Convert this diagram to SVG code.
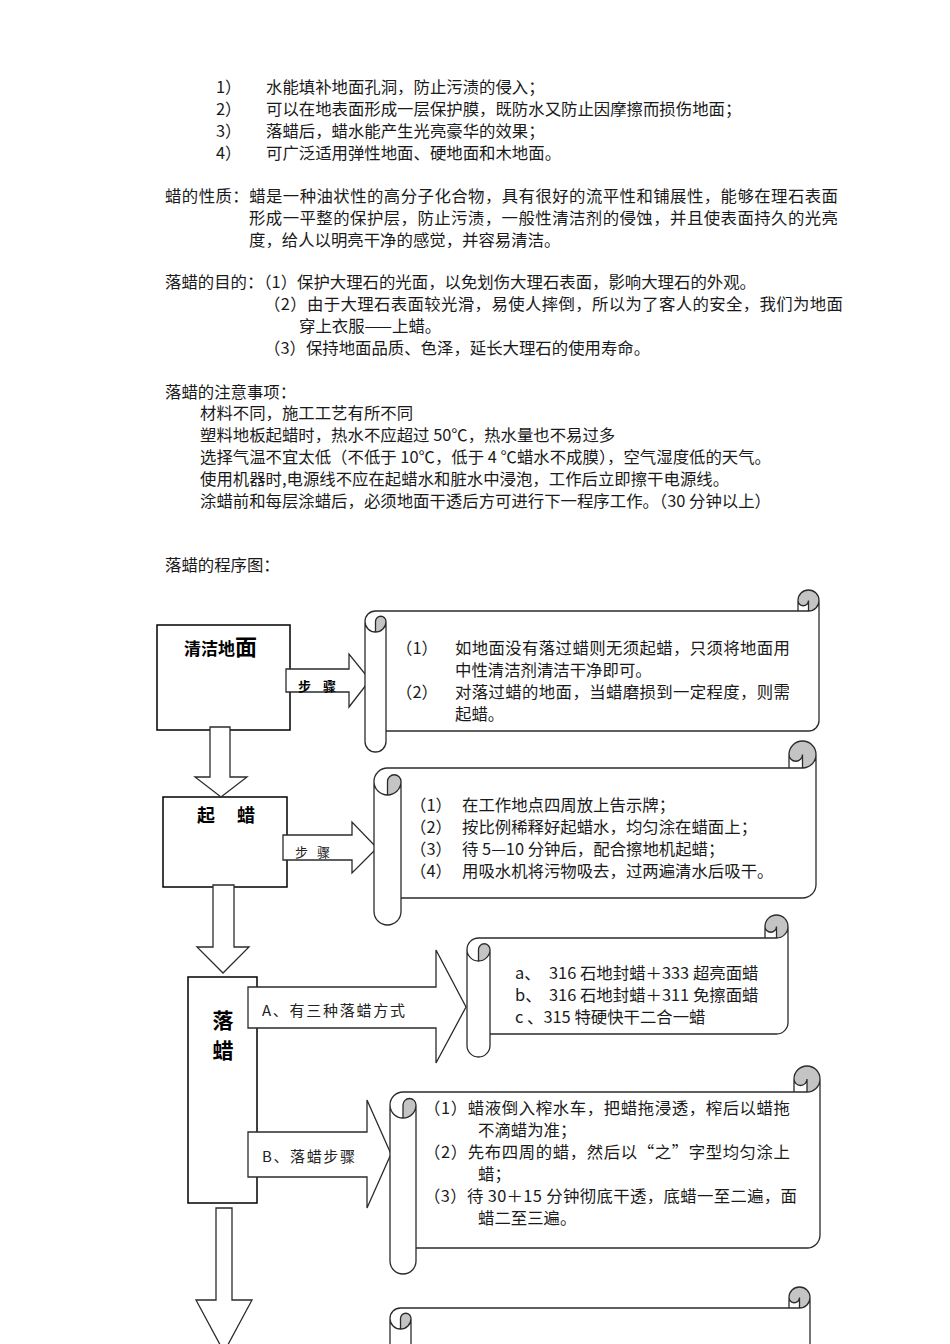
<svg xmlns="http://www.w3.org/2000/svg" width="950" height="1344" viewBox="0 0 950 1344">
<style>
.t{font-family:"Noto Sans CJK SC","Noto Sans",sans-serif;font-size:16.4px;fill:#1a1a1a}
.hb{font-family:"Noto Sans CJK SC","Noto Sans",sans-serif;font-weight:bold;fill:#000}
.lb{font-family:"Noto Sans CJK SC","Noto Sans",sans-serif;fill:#222}
.box{fill:#fff;stroke:#000;stroke-width:1.5}
.arr{fill:#fff;stroke:#2b2b2b;stroke-width:1.3;stroke-linejoin:miter}
.sf{fill:#fff;stroke:none}
.sg{fill:#c4c4c4;stroke:none}
.ss{fill:none;stroke:#2b2b2b;stroke-width:1.3}
</style>
<rect x="0" y="0" width="950" height="1344" fill="#fff"/>

<g id="intro-text" class="t">
  <text x="216" y="93">1）<tspan x="266">水能填补地面孔洞，防止污渍的侵入；</tspan></text>
  <text x="216" y="115">2）<tspan x="266">可以在地表面形成一层保护膜，既防水又防止因摩擦而损伤地面；</tspan></text>
  <text x="216" y="137">3）<tspan x="266">落蜡后，蜡水能产生光亮豪华的效果；</tspan></text>
  <text x="216" y="159">4）<tspan x="266">可广泛适用弹性地面、硬地面和木地面。</tspan></text>
  <text x="165" y="202" textLength="673" lengthAdjust="spacing">蜡的性质：蜡是一种油状性的高分子化合物，具有很好的流平性和铺展性，能够在理石表面</text>
  <text x="249" y="224" textLength="589" lengthAdjust="spacing">形成一平整的保护层，防止污渍，一般性清洁剂的侵蚀，并且使表面持久的光亮</text>
  <text x="249" y="246">度，给人以明亮干净的感觉，并容易清洁。</text>
  <text x="165" y="288">落蜡的目的：（1）保护大理石的光面，以免划伤大理石表面，影响大理石的外观。</text>
  <text x="264" y="310" textLength="579" lengthAdjust="spacing">（2）由于大理石表面较光滑，易使人摔倒，所以为了客人的安全，我们为地面</text>
  <text x="299" y="332">穿上衣服——上蜡。</text>
  <text x="264" y="354">（3）保持地面品质、色泽，延长大理石的使用寿命。</text>
  <text x="165" y="398">落蜡的注意事项：</text>
  <text x="200" y="419">材料不同，施工工艺有所不同</text>
  <text x="200" y="441">塑料地板起蜡时，热水不应超过 50℃，热水量也不易过多</text>
  <text x="200" y="463">选择气温不宜太低（不低于 10℃，低于 4 ℃蜡水不成膜），空气湿度低的天气。</text>
  <text x="200" y="485">使用机器时,电源线不应在起蜡水和脏水中浸泡，工作后立即擦干电源线。</text>
  <text x="200" y="507">涂蜡前和每层涂蜡后，必须地面干透后方可进行下一程序工作。（30 分钟以上）</text>
  <text x="165" y="571">落蜡的程序图：</text>
</g>

<g id="node-clean">
  <rect class="box" x="157" y="625" width="133" height="105"/>
  <text class="hb" x="184" y="655" font-size="17">清洁地<tspan font-size="22">面</tspan></text>
</g>
<g id="node-strip">
  <rect class="box" x="163" y="797" width="124" height="90"/>
  <text class="hb" x="197" y="822" font-size="18">起<tspan x="237">蜡</tspan></text>
</g>
<g id="node-wax">
  <rect class="box" x="188" y="977" width="69" height="226"/>
  <text class="hb" x="223" y="1028" font-size="21" text-anchor="middle">落</text>
  <text class="hb" x="223" y="1058" font-size="21" text-anchor="middle">蜡</text>
</g>

<g id="connectors">
  <polygon class="arr" points="286,669 349,669 349,654 370,680 349,707 349,692 286,692"/>
  <text class="hb" x="298" y="691" font-size="13" textLength="38" lengthAdjust="spacing">步 骤</text>
  <polygon class="arr" points="283,835 352,835 352,822 377,848 352,873 352,860 283,860"/>
  <text class="lb" x="295" y="857" font-size="13" fill="#555" textLength="35" lengthAdjust="spacing">步 骤</text>
  <polygon class="arr" points="210,727 230,727 230,777 247,777 221,797 195,777 210,777"/>
  <polygon class="arr" points="213,885 234,885 234,947 249,947 223,973 197,947 213,947"/>
  <polygon class="arr" points="248,987 436,987 436,950 466,1007 436,1063 436,1028 248,1028"/>
  <text class="lb" x="262" y="1016" font-size="15" textLength="143" lengthAdjust="spacing">A、有三种落蜡方式</text>
  <polygon class="arr" points="248,1132 367,1132 367,1100 391,1154 367,1208 367,1177 248,1177"/>
  <text class="lb" x="262" y="1162" font-size="15" textLength="93" lengthAdjust="spacing">B、落蜡步骤</text>
  <polygon class="arr" points="216,1208 232,1208 232,1300 252,1300 224,1352 196,1300 216,1300"/>
</g>

<g id="scroll-clean">
  <path class="sf" d="M365,621.5 A10.5,10.5 0 0 1 375.5,611 L798,611 L798,600.5 A10.5,10.5 0 0 1 819,600.5 L819,720.5 A10.5,10.5 0 0 1 808.5,731 L386,731 L386,741.5 A10.5,10.5 0 0 1 365,741.5 Z"/>
  <path class="sg" d="M375.5,632 A10.5,10.5 0 0 0 386,621.5 A5.25,5.25 0 0 0 375.5,621.5 Z M808.5,611 A10.5,10.5 0 1 0 798,600.5 A5.25,5.25 0 0 0 808.5,600.5 Z"/>
  <path class="ss" d="M365,621.5 A10.5,10.5 0 0 1 375.5,611 L798,611 L798,600.5 A10.5,10.5 0 0 1 819,600.5 L819,720.5 A10.5,10.5 0 0 1 808.5,731 L386,731 L386,741.5 A10.5,10.5 0 0 1 365,741.5 Z M798,611 L808.5,611 A10.5,10.5 0 0 0 819,600.5 M808.5,611 L808.5,600.5 A5.25,5.25 0 0 1 798,600.5 M375.5,632 L375.5,621.5 A5.25,5.25 0 0 1 386,621.5 A10.5,10.5 0 0 1 365,621.5 M386,621.5 L386,731"/>
  <g class="t">
    <text x="396" y="654">（1）<tspan x="455" textLength="335" lengthAdjust="spacing">如地面没有落过蜡则无须起蜡，只须将地面用</tspan></text>
    <text x="455" y="676">中性清洁剂清洁干净即可。</text>
    <text x="396" y="698">（2）<tspan x="455" textLength="335" lengthAdjust="spacing">对落过蜡的地面，当蜡磨损到一定程度，则需</tspan></text>
    <text x="455" y="720">起蜡。</text>
  </g>
</g>

<g id="scroll-strip">
  <path class="sf" d="M374,781.5 A13.5,13.5 0 0 1 387.5,768 L789,768 L789,754.5 A13.5,13.5 0 0 1 816,754.5 L816,884.5 A13.5,13.5 0 0 1 802.5,898 L401,898 L401,911.5 A13.5,13.5 0 0 1 374,911.5 Z"/>
  <path class="sg" d="M387.5,795 A13.5,13.5 0 0 0 401,781.5 A6.75,6.75 0 0 0 387.5,781.5 Z M802.5,768 A13.5,13.5 0 1 0 789,754.5 A6.75,6.75 0 0 0 802.5,754.5 Z"/>
  <path class="ss" d="M374,781.5 A13.5,13.5 0 0 1 387.5,768 L789,768 L789,754.5 A13.5,13.5 0 0 1 816,754.5 L816,884.5 A13.5,13.5 0 0 1 802.5,898 L401,898 L401,911.5 A13.5,13.5 0 0 1 374,911.5 Z M789,768 L802.5,768 A13.5,13.5 0 0 0 816,754.5 M802.5,768 L802.5,754.5 A6.75,6.75 0 0 1 789,754.5 M387.5,795 L387.5,781.5 A6.75,6.75 0 0 1 401,781.5 A13.5,13.5 0 0 1 374,781.5 M401,781.5 L401,898"/>
  <g class="t">
    <text x="410" y="811">（1）<tspan x="462">在工作地点四周放上告示牌；</tspan></text>
    <text x="410" y="833">（2）<tspan x="462">按比例稀释好起蜡水，均匀涂在蜡面上；</tspan></text>
    <text x="410" y="855">（3）<tspan x="462">待 5—10 分钟后，配合擦地机起蜡；</tspan></text>
    <text x="410" y="877">（4）<tspan x="462">用吸水机将污物吸去，过两遍清水后吸干。</tspan></text>
  </g>
</g>

<g id="scroll-methods">
  <path class="sf" d="M467,949.5 A11.5,11.5 0 0 1 478.5,938 L765,938 L765,926.5 A11.5,11.5 0 0 1 788,926.5 L788,1022.5 A11.5,11.5 0 0 1 776.5,1034 L490,1034 L490,1045.5 A11.5,11.5 0 0 1 467,1045.5 Z"/>
  <path class="sg" d="M478.5,961 A11.5,11.5 0 0 0 490,949.5 A5.75,5.75 0 0 0 478.5,949.5 Z M776.5,938 A11.5,11.5 0 1 0 765,926.5 A5.75,5.75 0 0 0 776.5,926.5 Z"/>
  <path class="ss" d="M467,949.5 A11.5,11.5 0 0 1 478.5,938 L765,938 L765,926.5 A11.5,11.5 0 0 1 788,926.5 L788,1022.5 A11.5,11.5 0 0 1 776.5,1034 L490,1034 L490,1045.5 A11.5,11.5 0 0 1 467,1045.5 Z M765,938 L776.5,938 A11.5,11.5 0 0 0 788,926.5 M776.5,938 L776.5,926.5 A5.75,5.75 0 0 1 765,926.5 M478.5,961 L478.5,949.5 A5.75,5.75 0 0 1 490,949.5 A11.5,11.5 0 0 1 467,949.5 M490,949.5 L490,1034"/>
  <g class="t">
    <text x="515" y="979">a、<tspan x="549">316 石地封蜡＋333 超亮面蜡</tspan></text>
    <text x="515" y="1001">b、<tspan x="549">316 石地封蜡＋311 免擦面蜡</tspan></text>
    <text x="515" y="1023">c 、315 特硬快干二合一蜡</text>
  </g>
</g>

<g id="scroll-steps">
  <path class="sf" d="M390,1105 A13,13 0 0 1 403,1092 L794,1092 L794,1079 A13,13 0 0 1 820,1079 L820,1235 A13,13 0 0 1 807,1248 L416,1248 L416,1261 A13,13 0 0 1 390,1261 Z"/>
  <path class="sg" d="M403,1118 A13,13 0 0 0 416,1105 A6.5,6.5 0 0 0 403,1105 Z M807,1092 A13,13 0 1 0 794,1079 A6.5,6.5 0 0 0 807,1079 Z"/>
  <path class="ss" d="M390,1105 A13,13 0 0 1 403,1092 L794,1092 L794,1079 A13,13 0 0 1 820,1079 L820,1235 A13,13 0 0 1 807,1248 L416,1248 L416,1261 A13,13 0 0 1 390,1261 Z M794,1092 L807,1092 A13,13 0 0 0 820,1079 M807,1092 L807,1079 A6.5,6.5 0 0 1 794,1079 M403,1118 L403,1105 A6.5,6.5 0 0 1 416,1105 A13,13 0 0 1 390,1105 M416,1105 L416,1248"/>
  <g class="t">
    <text x="424" y="1114" textLength="366" lengthAdjust="spacing">（1）蜡液倒入榨水车，把蜡拖浸透，榨后以蜡拖</text>
    <text x="478" y="1136">不滴蜡为准；</text>
    <text x="424" y="1158" textLength="366" lengthAdjust="spacing">（2）先布四周的蜡，然后以“之”字型均匀涂上</text>
    <text x="478" y="1180">蜡；</text>
    <text x="424" y="1202" textLength="373" lengthAdjust="spacing">（3）待 30＋15 分钟彻底干透，底蜡一至二遍，面</text>
    <text x="478" y="1224">蜡二至三遍。</text>
  </g>
</g>

<g id="scroll-next">
  <path class="sf" d="M390,1318.5 A10.5,10.5 0 0 1 400.5,1308 L789,1308 L789,1297.5 A10.5,10.5 0 0 1 810,1297.5 L810,1528.5 A10.5,10.5 0 0 1 799.5,1539 L411,1539 L411,1549.5 A10.5,10.5 0 0 1 390,1549.5 Z"/>
  <path class="sg" d="M400.5,1329 A10.5,10.5 0 0 0 411,1318.5 A5.25,5.25 0 0 0 400.5,1318.5 Z M799.5,1308 A10.5,10.5 0 1 0 789,1297.5 A5.25,5.25 0 0 0 799.5,1297.5 Z"/>
  <path class="ss" d="M390,1318.5 A10.5,10.5 0 0 1 400.5,1308 L789,1308 L789,1297.5 A10.5,10.5 0 0 1 810,1297.5 L810,1528.5 A10.5,10.5 0 0 1 799.5,1539 L411,1539 L411,1549.5 A10.5,10.5 0 0 1 390,1549.5 Z M789,1308 L799.5,1308 A10.5,10.5 0 0 0 810,1297.5 M799.5,1308 L799.5,1297.5 A5.25,5.25 0 0 1 789,1297.5 M400.5,1329 L400.5,1318.5 A5.25,5.25 0 0 1 411,1318.5 A10.5,10.5 0 0 1 390,1318.5 M411,1318.5 L411,1539"/>
</g>
</svg>
